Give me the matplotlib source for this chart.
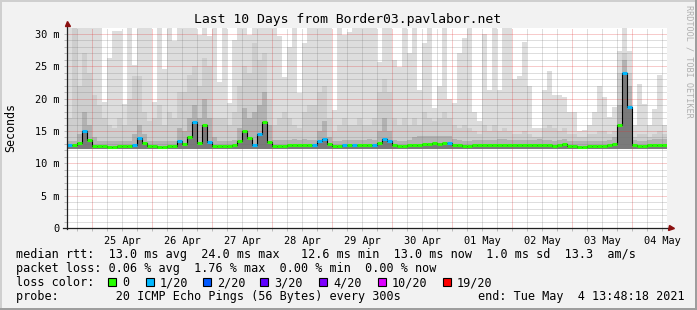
import numpy as np
import pandas as pd
import matplotlib
matplotlib.use('Agg')
import matplotlib.pyplot as plt
import matplotlib.dates as mdates
from matplotlib.ticker import MultipleLocator, FuncFormatter, NullFormatter
from matplotlib.patches import Rectangle

plt.rcParams['font.family'] = ['DejaVu Sans Mono']

# --- data (2 hour bins) ---
start = pd.Timestamp('2021-04-24 13:48:18')
end = pd.Timestamp('2021-05-04 13:48:18')
bin_hours = 2

median_ms = [
    12.8, 12.8, 13.1, 15.0, 13.6, 12.7, 12.7, 12.7, 12.6, 12.6,
    12.7, 12.7, 12.7, 12.8, 13.9, 13.1, 12.7, 12.7, 12.6, 12.6,
    12.7, 12.7, 13.5, 13.0, 14.1, 16.4, 13.1, 16.0, 13.3, 12.7,
    12.7, 12.7, 12.7, 12.8, 13.4, 15.0, 13.9, 12.9, 14.6, 16.4,
    13.3, 12.7, 12.7, 12.7, 12.8, 12.9, 12.8, 12.9, 12.8, 12.8,
    13.4, 13.8, 13.0, 12.7, 12.7, 12.8, 12.8, 12.8, 12.8, 12.8,
    12.9, 12.8, 13.2, 13.7, 13.4, 12.8, 12.7, 12.7, 12.8, 12.9,
    12.9, 13.0, 13.0, 13.1, 13.0, 13.1, 13.1, 12.8, 12.8, 12.7,
    12.7, 12.8, 12.8, 12.8, 12.8, 12.8, 12.9, 12.9, 12.8, 12.8,
    12.8, 12.8, 12.8, 12.8, 12.9, 12.8, 12.8, 12.7, 12.8, 13.0,
    12.7, 12.7, 12.6, 12.6, 12.7, 12.7, 12.7, 12.7, 12.8, 13.0,
    15.9, 23.9, 18.7, 12.8, 12.7, 12.7, 12.8, 12.9, 12.9, 12.9,
]

loss_count = [
    1, 0, 0, 1, 0, 0, 0, 0, 0, 0,
    0, 0, 0, 1, 1, 0, 0, 0, 0, 0,
    0, 0, 1, 0, 0, 1, 0, 0, 1, 0,
    0, 0, 0, 0, 0, 0, 0, 1, 1, 0,
    0, 0, 0, 0, 0, 0, 0, 0, 0, 1,
    1, 1, 0, 0, 0, 1, 0, 1, 0, 0,
    0, 1, 0, 1, 1, 0, 0, 0, 0, 0,
    0, 0, 0, 0, 0, 0, 1, 0, 0, 0,
    0, 0, 0, 0, 0, 0, 0, 0, 0, 0,
    0, 0, 0, 0, 0, 0, 0, 0, 0, 0,
    0, 0, 0, 0, 0, 0, 0, 0, 0, 0,
    0, 1, 1, 0, 0, 0, 0, 0, 0, 0,
]

# upper edge of the light smoke (slowest pings)
smoke_max_ms = [
    30.9, 30.9, 30.9, 30.9, 30.9, 30.9, 30.9, 19.4, 26.2, 30.4,
    30.4, 19.2, 30.9, 25.2, 30.9, 30.9, 30.9, 19.5, 30.9, 24.6,
    30.9, 28.8, 30.9, 30.9, 30.9, 30.9, 29.8, 30.9, 29.6, 30.9,
    22.6, 30.9, 19.3, 29.0, 30.9, 30.9, 29.8, 30.9, 30.9, 30.9,
    30.9, 30.9, 29.6, 23.3, 28.0, 30.9, 20.8, 28.5, 30.9, 30.9,
    30.9, 30.9, 30.9, 18.2, 30.9, 29.8, 30.2, 30.9, 30.9, 30.9,
    30.9, 30.9, 25.7, 30.9, 30.9, 26.0, 24.9, 30.9, 27.0, 30.9,
    21.3, 28.5, 30.9, 18.5, 22.0, 30.9, 20.0, 19.3, 27.0, 29.3,
    30.9, 17.9, 16.5, 30.0, 21.3, 30.9, 21.3, 30.9, 30.9, 23.0,
    23.5, 28.7, 21.9, 15.5, 15.5, 21.3, 24.2, 20.5, 20.5, 20.2,
    17.9, 17.9, 15.0, 15.2, 15.9, 18.0, 22.0, 20.2, 17.1, 18.7,
    27.4, 30.9, 27.4, 15.9, 22.2, 19.2, 15.9, 18.4, 23.6, 16.0,
]

# upper edge of the medium smoke
smoke_mid_ms = [
    17.0, 30.9, 22.0, 27.0, 24.0, 20.5, 19.0, 17.0, 16.0, 15.5,
    17.0, 16.0, 20.0, 23.5, 23.5, 18.0, 16.5, 17.0, 19.0, 16.0,
    18.0, 17.0, 21.0, 21.0, 23.6, 25.0, 22.0, 26.2, 25.0, 17.0,
    17.0, 17.0, 16.0, 18.0, 22.0, 25.0, 24.0, 28.5, 26.0, 27.0,
    20.0, 16.0, 17.0, 18.0, 17.0, 16.0, 15.5, 18.0, 19.0, 19.0,
    21.0, 22.0, 17.0, 15.0, 16.0, 17.0, 16.0, 16.0, 17.0, 16.0,
    16.0, 17.0, 21.0, 23.0, 21.0, 17.0, 16.0, 17.0, 16.0, 17.0,
    16.0, 18.0, 17.0, 16.5, 17.0, 18.0, 17.0, 16.0, 15.5, 16.0,
    15.5, 15.0, 14.5, 16.0, 15.0, 16.0, 15.0, 15.5, 15.0, 14.5,
    14.5, 15.0, 14.5, 14.0, 14.0, 15.5, 16.0, 15.5, 15.0, 15.5,
    14.5, 14.5, 14.0, 14.0, 14.5, 14.5, 15.0, 15.0, 14.5, 15.0,
    24.0, 27.0, 24.0, 14.0, 14.5, 14.5, 14.0, 14.5, 15.0, 14.5,
]

# upper edge of the dark smoke close to the median
smoke_dark_ms = [
    13.5, 13.5, 14.5, 18.0, 16.0, 14.0, 13.5, 13.5, 13.4, 13.4,
    13.5, 13.5, 13.5, 14.5, 16.0, 14.5, 13.5, 13.5, 13.4, 13.4,
    13.5, 13.5, 15.5, 15.0, 17.0, 19.0, 17.0, 20.0, 17.0, 14.0,
    13.5, 13.5, 13.5, 13.6, 15.5, 18.5, 17.0, 18.0, 19.0, 21.0,
    16.0, 13.6, 13.6, 13.6, 13.6, 13.7, 13.6, 13.7, 13.6, 13.6,
    15.0, 16.5, 14.0, 13.5, 13.5, 13.6, 13.6, 13.6, 13.6, 13.6,
    13.7, 13.6, 15.0, 17.0, 15.0, 13.6, 13.5, 13.5, 13.6, 14.0,
    14.2, 14.2, 14.3, 14.3, 14.2, 14.3, 14.3, 13.8, 13.6, 13.5,
    13.5, 13.6, 13.6, 13.6, 13.6, 13.6, 13.7, 13.7, 13.6, 13.6,
    13.6, 13.6, 13.6, 13.6, 13.7, 13.6, 13.6, 13.5, 13.6, 13.8,
    13.5, 13.5, 13.4, 13.4, 13.5, 13.5, 13.5, 13.5, 13.6, 14.0,
    19.0, 26.0, 22.0, 13.6, 13.5, 13.5, 13.6, 13.7, 13.7, 13.7,
]

rtt_floor_ms = 12.3

loss_levels = [0, 1, 2, 3, 4, 10, 19]
loss_labels = ['0', '1/20', '2/20', '3/20', '4/20', '10/20', '19/20']
loss_colors = ['#26ff00', '#00b8ff', '#0059ff', '#5e00ff', '#7e00ff', '#dd00ff', '#ff0000']

legend_rtt = 'median rtt:  13.0 ms avg  24.0 ms max   12.6 ms min  13.0 ms now  1.0 ms sd  13.3  am/s'
legend_loss = 'packet loss: 0.06 % avg  1.76 % max  0.00 % min  0.00 % now'
legend_probe = 'probe:        20 ICMP Echo Pings (56 Bytes) every 300s'
legend_end = 'end: Tue May  4 13:48:18 2021'
title = 'Last 10 Days from Border03.pavlabor.net'


def loss_color(n):
    col = loss_colors[0]
    for lvl, c in zip(loss_levels, loss_colors):
        if n >= lvl:
            col = c
    return col


W, H = 697, 310
fig = plt.figure(figsize=(W / 100, H / 100), dpi=100, facecolor='#f2f2f2')
ax = fig.add_axes([66.7 / W, (H - 228.3) / H, 600 / W, 200.3 / H])
ax.set_facecolor('white')

edges = pd.date_range(start, periods=len(median_ms) + 1, freq=f'{bin_hours}h')
x = mdates.date2num(edges.to_pydatetime())


def ext(v):
    return np.append(v, v[-1])


ax.fill_between(x, rtt_floor_ms, ext(smoke_max_ms), step='post', color='#dddddd', lw=0, zorder=1)
ax.fill_between(x, rtt_floor_ms, ext(smoke_mid_ms), step='post', color='#cecece', lw=0, zorder=1.1)
ax.fill_between(x, rtt_floor_ms, ext(smoke_dark_ms), step='post', color='#b2b2b2', lw=0, zorder=1.2)
ax.fill_between(x, rtt_floor_ms, ext(median_ms), step='post', color='#7a7a7a', lw=0, zorder=1.3)

# median line, coloured by packet loss
ax.step(x, ext(median_ms), where='post', color='black', lw=0.8, zorder=3)
ax.hlines(median_ms, x[:-1], x[1:], colors=[loss_color(n) for n in loss_count],
          lw=2.2, zorder=4)

ax.set_xlim(mdates.date2num(start.to_pydatetime()), mdates.date2num(end.to_pydatetime()))
ax.set_ylim(0, 30.88)

# grid
ax.xaxis.set_major_locator(mdates.DayLocator())
ax.xaxis.set_major_formatter(NullFormatter())
ax.xaxis.set_minor_locator(mdates.HourLocator(byhour=[6, 12, 18]))


def day_label(v, pos):
    d = mdates.num2date(v)
    return d.strftime('%d %b') if d.hour == 12 else ''


ax.xaxis.set_minor_formatter(FuncFormatter(day_label))
ax.yaxis.set_major_locator(MultipleLocator(5))
ax.yaxis.set_minor_locator(MultipleLocator(1))
ax.yaxis.set_major_formatter(FuncFormatter(lambda v, p: '0' if v == 0 else f'{int(v)} m'))

ax.set_axisbelow(False)
ax.grid(which='major', color='#e03030', alpha=0.5, ls=(0, (1, 1)), lw=0.72)
ax.grid(which='minor', color='#707070', alpha=0.45, ls=(0, (1, 1)), lw=0.72)
ax.tick_params(which='both', length=2.2, width=0.7, colors='#bbbbbb', labelcolor='black')
ax.tick_params(axis='x', which='minor', labelsize=7.35, pad=3)
ax.tick_params(axis='y', which='major', labelsize=7.35, pad=3.2)

for s in ax.spines.values():
    s.set_visible(False)

# axes with arrows
ax.plot([0, 0], [-0.005, 1.02], transform=ax.transAxes, color='#202020', lw=0.9, clip_on=False, zorder=6)
ax.plot([-0.007, 1.005], [0, 0], transform=ax.transAxes, color='#202020', lw=0.9, clip_on=False, zorder=6)
ax.plot([0], [1.0235], marker='^', ms=3.6, color='#8b1010', transform=ax.transAxes, clip_on=False, zorder=7)
ax.plot([1.0072], [0], marker='>', ms=3.6, color='#8b1010', transform=ax.transAxes, clip_on=False, zorder=7)

# texts
fig.text(348 / W, 1 - 19 / H, title, ha='center', va='center', fontsize=9.45)
fig.text(11 / W, 1 - 128 / H, 'Seconds', rotation=90, ha='center', va='center', fontsize=8.4)
fig.text(688.5 / W, 1 - 5 / H, 'RRDTOOL / TOBI OETIKER', rotation=270, ha='center', va='top',
         fontsize=6.1, color='#b0b0b0')

fs = 8.43
fig.text(16 / W, 1 - 258 / H, legend_rtt, fontsize=fs, va='baseline')
fig.text(16 / W, 1 - 272 / H, legend_loss, fontsize=fs, va='baseline')
fig.text(16 / W, 1 - 286 / H, 'loss color:', fontsize=fs, va='baseline')
box_x = [108, 146, 203, 260, 319, 378, 443]
for bx, lab, col in zip(box_x, loss_labels, loss_colors):
    fig.add_artist(Rectangle((bx / W, 1 - 285.7 / H), 8 / W, 8 / H, transform=fig.transFigure,
                             facecolor=col, edgecolor='black', lw=0.8))
    fig.text((bx + 14) / W, 1 - 286 / H, lab, fontsize=fs, va='baseline')
fig.text(16 / W, 1 - 300 / H, legend_probe, fontsize=fs, va='baseline')
fig.text(478 / W, 1 - 300 / H, legend_end, fontsize=fs, va='baseline')

# bevelled frame
for (x0, y0, w, h, c) in [(0, 0, 2 / W, 1, '#cfcfcf'), (0, 1 - 2 / H, 1, 2 / H, '#cfcfcf'),
                          (1 - 2 / W, 0, 2 / W, 1, '#9e9e9e'), (0, 0, 1, 2 / H, '#9e9e9e')]:
    fig.add_artist(Rectangle((x0, y0), w, h, transform=fig.transFigure, color=c, lw=0))

fig.savefig('out.png', dpi=100, facecolor=fig.get_facecolor())
